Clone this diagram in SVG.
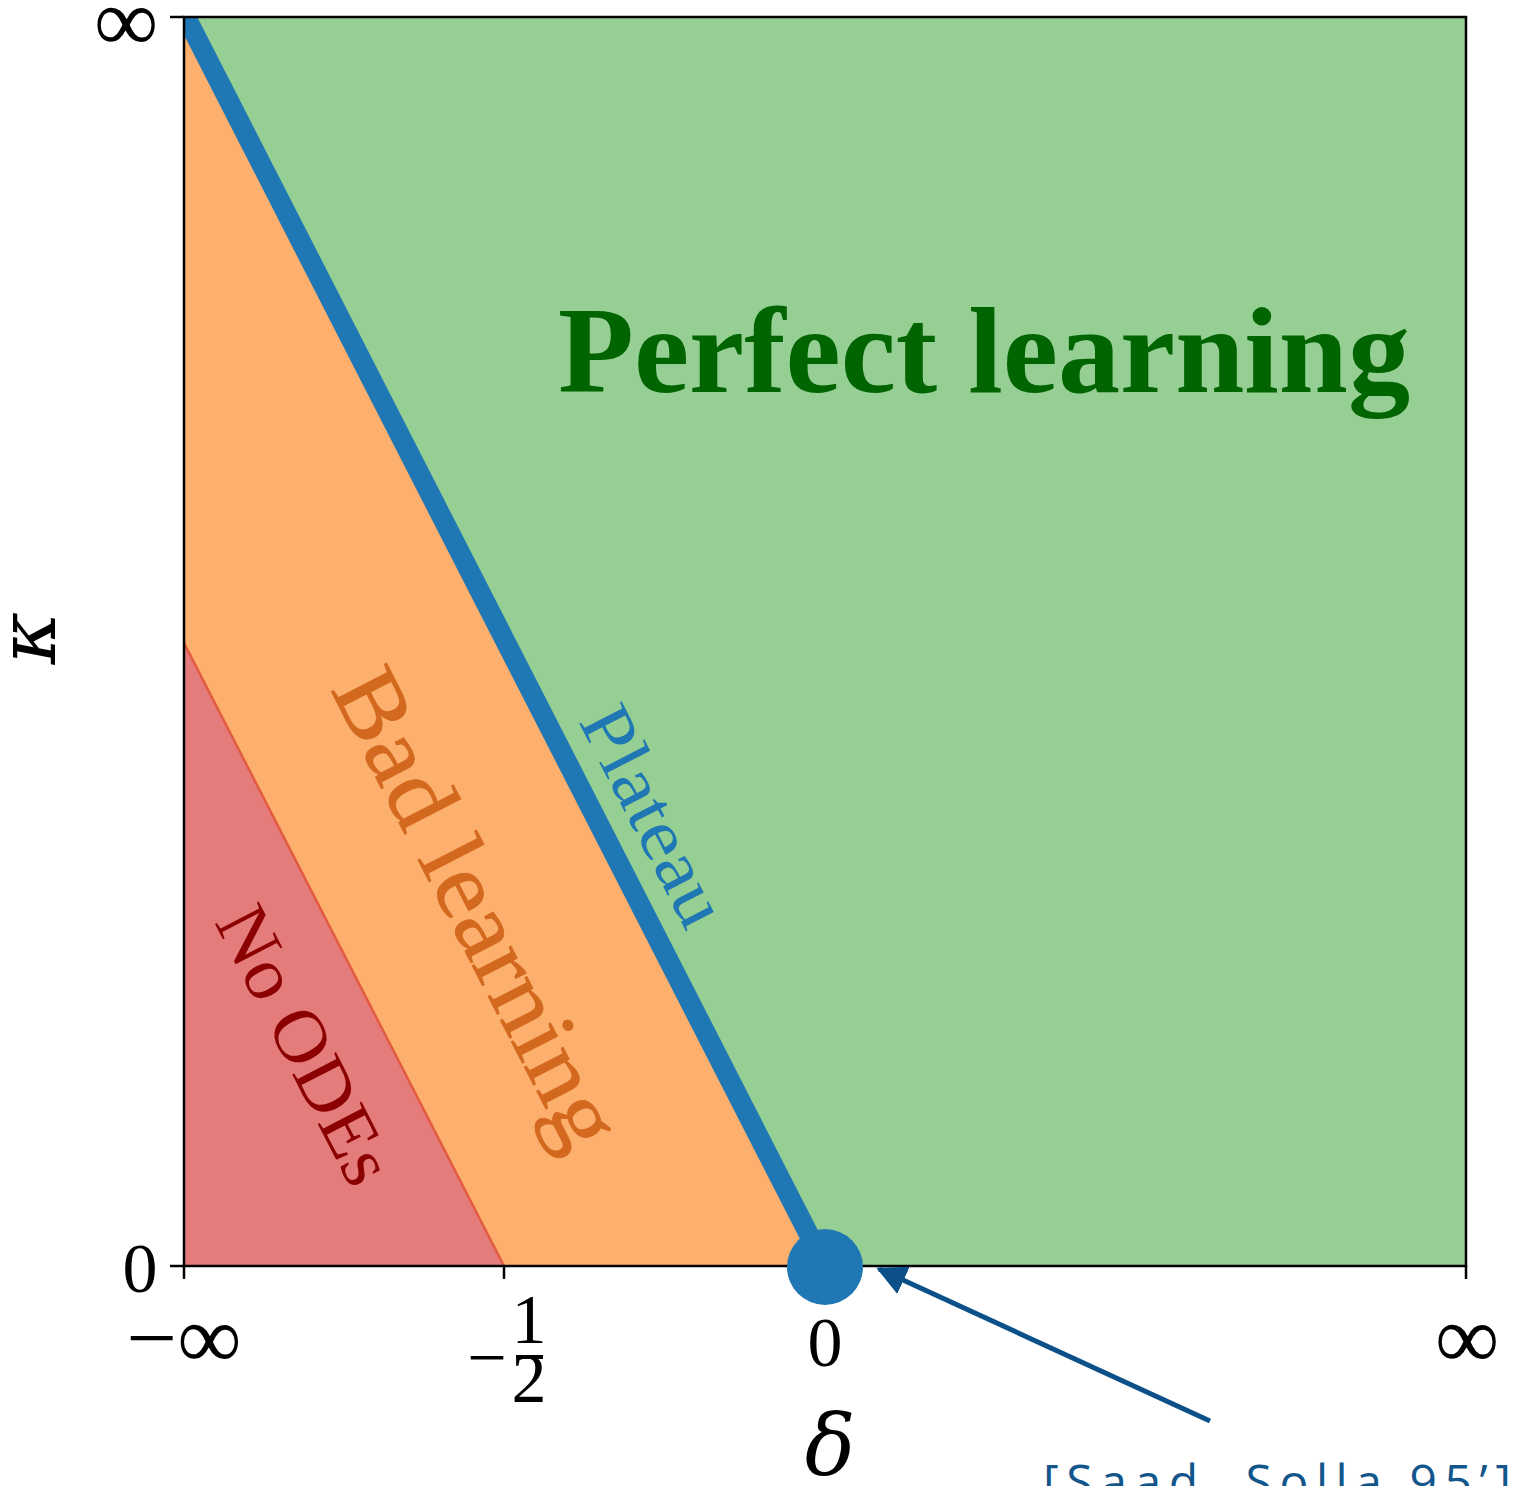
<svg xmlns="http://www.w3.org/2000/svg" width="1523" height="1486" viewBox="0 0 1523 1486">
<style>
.tick{font-family:"Liberation Serif","DejaVu Serif",serif;font-size:70px;fill:#000}
.inf{font-size:90px}
.greek{font-family:"DejaVu Serif","Liberation Serif",serif;font-style:italic;fill:#000}
.frame{fill:none;stroke:#000;stroke-width:2.5}
.tk{stroke:#000;stroke-width:2.5}
.region{font-family:"Liberation Serif","DejaVu Serif",serif}
</style>
<defs>
<clipPath id="plot"><rect x="184" y="17" width="1282" height="1249"/></clipPath>
<marker id="ah" viewBox="0 0 10 10" refX="9" refY="5" markerWidth="6" markerHeight="6" orient="auto" markerUnits="strokeWidth"><path d="M0,0 L10,5 L0,10 z" fill="#0b5089"/></marker>
</defs>
<g id="regions">
<rect id="perfect" x="184" y="17" width="1282" height="1249" fill="#96cf94"/>
<polygon id="bad" points="184,17 825,1266 184,1266" fill="#fdb06e"/>
<polygon id="noode" points="184,643 504,1266 184,1266" fill="#e57c7c"/>
<line x1="184" y1="643" x2="504" y2="1266" stroke="#e25a3f" stroke-width="2.5"/>
<line id="plateau-line" x1="186" y1="17" x2="825" y2="1266" stroke="#1f77b4" stroke-width="20" clip-path="url(#plot)"/>
</g>
<g id="frame">
<rect class="frame" x="184" y="17" width="1282" height="1249"/>
<line class="tk" x1="170" y1="17" x2="184" y2="17"/>
<line class="tk" x1="170" y1="1266" x2="184" y2="1266"/>
<line class="tk" x1="184" y1="1266" x2="184" y2="1279"/>
<line class="tk" x1="504" y1="1266" x2="504" y2="1279"/>
<line class="tk" x1="825" y1="1266" x2="825" y2="1279"/>
<line class="tk" x1="1466" y1="1266" x2="1466" y2="1279"/>
</g>
<g id="dot"><circle cx="825" cy="1267" r="38" fill="#1f77b4"/></g>
<g id="labels">
<text class="region" x="558" y="392" font-size="122" font-weight="bold" fill="#006400" textLength="852" lengthAdjust="spacingAndGlyphs">Perfect learning</text>
<text class="region" transform="translate(330,689) rotate(62.8)" font-size="95" fill="#d2691e" stroke="#d2691e" stroke-width="0.8" textLength="525" lengthAdjust="spacingAndGlyphs">Bad learning</text>
<text class="region" transform="translate(578,721) rotate(62.8)" font-size="73" fill="#1f77b4" textLength="238" lengthAdjust="spacingAndGlyphs">Plateau</text>
<text class="region" transform="translate(214,922) rotate(62.8)" font-size="75" fill="#8b0000" textLength="302" lengthAdjust="spacingAndGlyphs">No ODEs</text>
</g>
<g id="axes-text">
<text class="tick inf" x="126" y="51" text-anchor="middle">∞</text>
<text class="tick" x="140" y="1292" text-anchor="middle">0</text>
<text class="tick inf" x="184" y="1368" text-anchor="middle">−∞</text>
<text class="tick" x="487" y="1381" text-anchor="middle" font-size="66">−</text>
<text class="tick" x="529" y="1343" text-anchor="middle" font-size="46">1</text>
<line x1="516" y1="1357" x2="543" y2="1357" stroke="#000" stroke-width="4"/>
<text class="tick" x="529" y="1402" text-anchor="middle" font-size="46">2</text>
<text class="tick" x="825" y="1366" text-anchor="middle">0</text>
<text class="tick inf" x="1467" y="1368" text-anchor="middle">∞</text>
<text class="greek" x="830" y="1474" text-anchor="middle" font-size="84">δ</text>
<text class="greek" transform="translate(55,638) rotate(-90)" text-anchor="middle" font-size="80">κ</text>
</g>
<g id="connectors">
<line x1="1210" y1="1421" x2="879" y2="1269" stroke="#0b5089" stroke-width="5" marker-end="url(#ah)"/>
</g>
<g id="annotation">
<text x="1043" y="1499" font-family="'Open Sans','Noto Sans',sans-serif" font-size="48" fill="#12568c" textLength="468" lengthAdjust="spacing">[Saad, Solla 95’]</text>
</g>
</svg>
